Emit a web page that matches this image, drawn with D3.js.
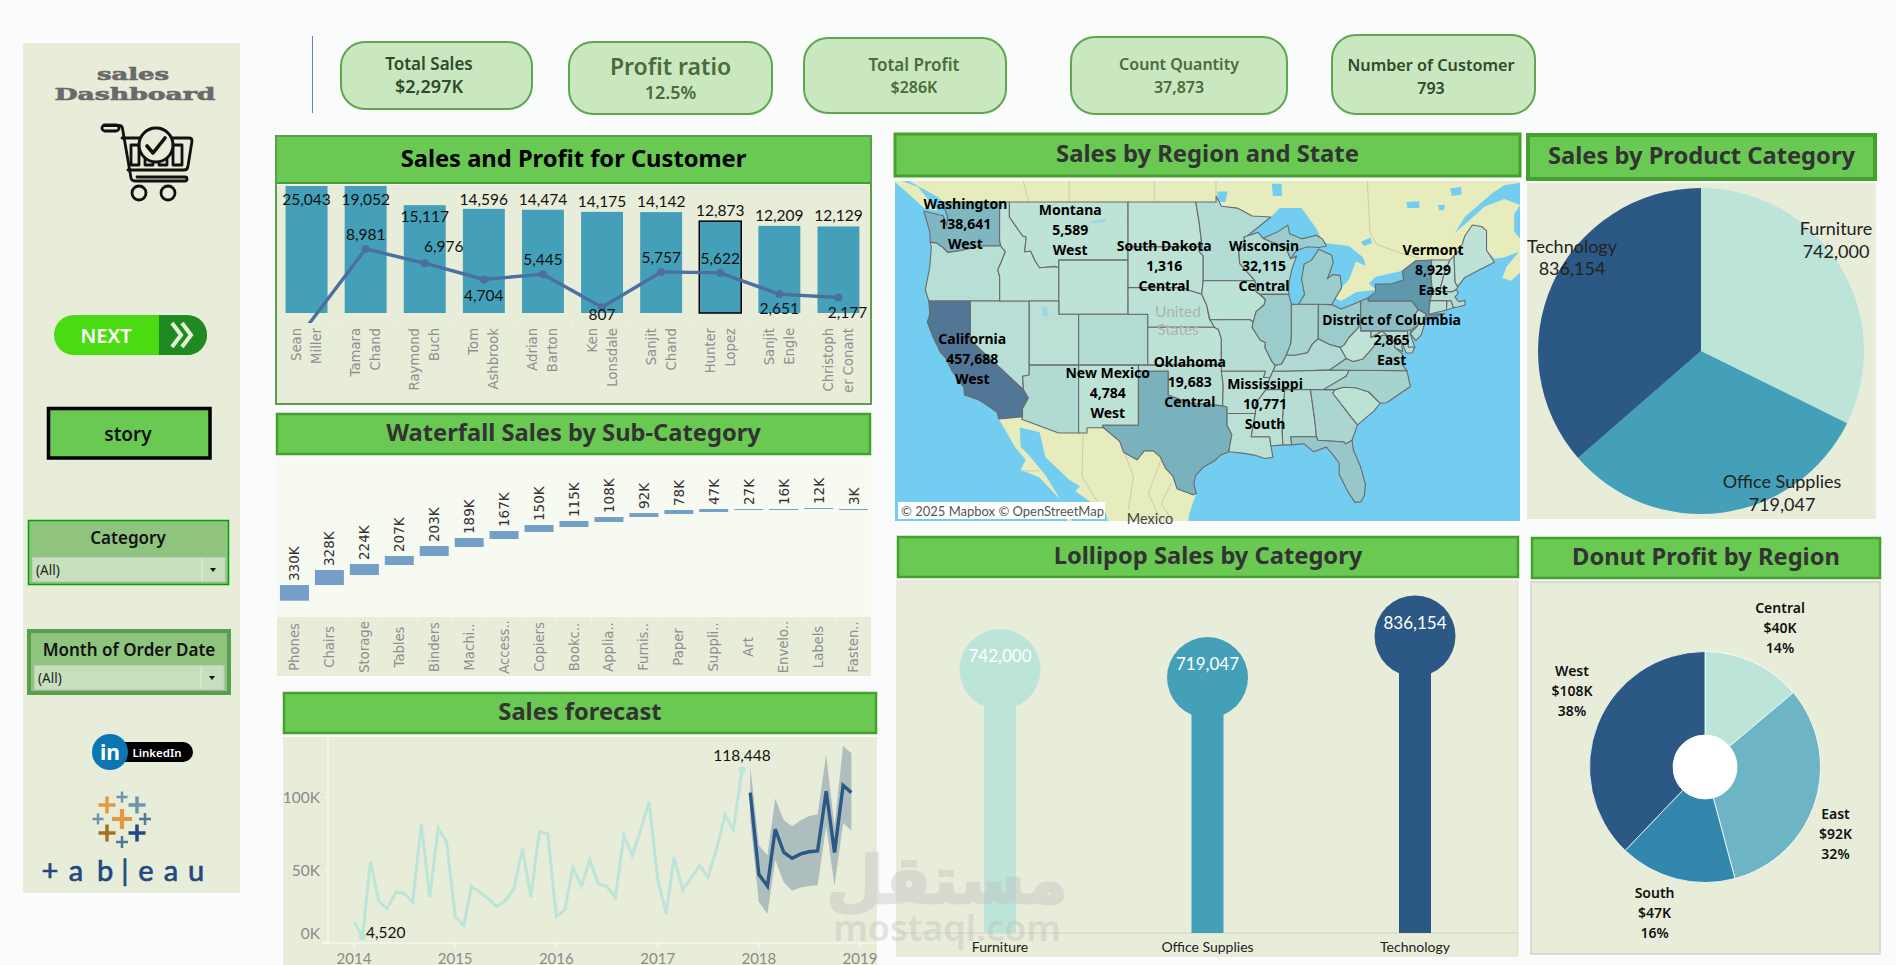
<!DOCTYPE html>
<html><head><meta charset="utf-8">
<script src="https://cdn.jsdelivr.net/npm/d3@7/dist/d3.min.js"></script>
<style>html,body{margin:0;padding:0;background:#fafbfb;overflow:hidden}svg{display:block}</style>
</head><body>
<script>
// ---------- DATA ----------
const kpiNames=["Total Sales","Profit ratio","Total Profit","Count Quantity","Number of Customer"];
const kpiValues=["$2,297K","12.5%","$286K","37,873","793"];
const customers=[["Sean","Miller"],["Tamara","Chand"],["Raymond","Buch"],["Tom","Ashbrook"],["Adrian","Barton"],["Ken","Lonsdale"],["Sanjit","Chand"],["Hunter","Lopez"],["Sanjit","Engle"],["Christoph","er Conant"]];
const customerSales=[25043,19052,15117,14596,14474,14175,14142,12873,12209,12129];
const customerProfit=[-1981,8981,6976,4704,5445,807,5757,5622,2651,2177];
const subCats=["Phones","Chairs","Storage","Tables","Binders","Machi..","Access..","Copiers","Bookc..","Applia..","Furnis..","Paper","Suppli..","Art","Envelo..","Labels","Fasten.."];
const subLabels=["330K","328K","224K","207K","203K","189K","167K","150K","115K","108K","92K","78K","47K","27K","16K","12K","3K"];
const subStart=[0,329,539,749,938,1127,1295,1442,1547,1652,1757,1820,1862,1918,1918,1939,1918];
const subEnd=[329,644,770,938,1148,1316,1463,1589,1673,1757,1841,1904,1925,1925,1925,1946,1925];
const actualSales=[14.4,4.52,55.9,28.5,23.5,34.7,33.9,28,81.8,31.5,78.6,69.5,18.3,12,38.8,34.7,30,25,29,37,64.6,31.3,76.3,75,18.2,22.8,51.8,38.8,57,40.4,38.8,31.3,73.7,59.8,77.6,97,43.4,20,58.9,36.3,44.5,53.2,45,64,88,77.6,118.448];
const forecastSales=[103,47,39,78,62,58,61,62.5,63,104,62,108,103];
const forecastHigh=[121,67,60,99,84,80,84,87,88,129,80,135,130];
const forecastLow=[84.5,28,20,57,41.5,36,38,39,39.5,80,39,82,77];
const yearTicks=[2014,2015,2016,2017,2018,2019];
const catNames=["Furniture","Office Supplies","Technology"];
const catSales=[742000,719047,836154];
const regionNames=["Central","East","South","West"];
const regionProfit=[39706,91523,46749,108418];
const regionMoney=["$40K","$92K","$47K","$108K"];
const regionPct=["14%","32%","16%","38%"];
const stateSales={CA:457688,NY:310876,TX:170188,WA:138641,PA:116512,FL:89474,IL:80166,OH:78258,MI:76270,VA:70637,NC:55603,IN:53555,GA:49096,KY:36592,NJ:35764,AZ:35282,WI:32115,CO:32108,TN:30662,MN:29863,MA:28634,DE:27451,MD:23706,RI:22628,MO:22205,OK:19683,AL:19511,OR:17431,NV:16729,CT:13384,AR:11678,UT:11220,MS:10771,LA:9217,VT:8929,SC:8482,NE:7464,NH:7293,MT:5589,NM:4784,IA:4580,ID:4382,KS:2914,DC:2865,WY:1603,SD:1316,ME:1271,WV:1210,ND:919};
const mapLabels=[["Washington","138,641","West",-120.5,47.58],["Montana","5,589","West",-109.9,47.12],["South Dakota","1,316","Central",-100.4,44.64],["Wisconsin","32,115","Central",-90.3,44.64],["Vermont","8,929","East",-73.2,44.29],["District of Columbia","2,865","East",-77.4,39.08],["California","457,688","West",-119.8,37.5],["New Mexico","4,784","West",-106.1,34.72],["Oklahoma","19,683","Central",-97.8,35.7],["Mississippi","10,771","South",-90.2,33.8]];
// Simplified outlines in longitude / latitude
const stateShapes={
WA:[[-124.7,48.4],[-123.2,48.15],[-122.75,48.1],[-122.4,47.4],[-122.3,48],[-122.8,49],[-117.03,49],[-117.04,46.4],[-116.92,46],[-118.98,46],[-119.3,45.93],[-121.2,45.65],[-122.3,45.55],[-122.8,45.9],[-123.4,46.2],[-124.05,46.27],[-124.1,47]],
OR:[[-124.05,46.27],[-123.4,46.2],[-122.8,45.9],[-122.3,45.55],[-121.2,45.65],[-119.3,45.93],[-118.98,46],[-116.92,46],[-116.46,45.6],[-116.85,44.9],[-117.22,44.3],[-117.03,43.8],[-117.03,42],[-124.2,42],[-124.55,42.85],[-124.1,44.5],[-123.95,45.9]],
CA:[[-124.2,42],[-120,42],[-120,39],[-114.63,35],[-114.13,34.3],[-114.72,33.4],[-114.72,32.72],[-117.12,32.53],[-117.3,33.1],[-118.4,33.75],[-119.2,34.15],[-120.6,34.55],[-120.65,35.15],[-121.9,36.6],[-122.5,37.6],[-123,38],[-123.8,39.3],[-124.35,40.4],[-124.1,41]],
NV:[[-120,42],[-114.04,42],[-114.04,36.2],[-114.7,36.1],[-114.63,35],[-120,39]],
ID:[[-117.03,49],[-116.05,49],[-116.05,48],[-114.7,46.7],[-114.35,46.65],[-114.5,45.6],[-113.9,45.65],[-113.45,44.95],[-113,44.45],[-111.5,44.55],[-111.05,44.47],[-111.05,42],[-117.03,42],[-117.03,43.8],[-117.22,44.3],[-116.85,44.9],[-116.46,45.6],[-116.92,46],[-117.04,46.4]],
MT:[[-116.05,49],[-104.05,49],[-104.05,45],[-111.05,45],[-111.05,44.47],[-111.5,44.55],[-113,44.45],[-113.45,44.95],[-113.9,45.65],[-114.5,45.6],[-114.35,46.65],[-114.7,46.7],[-116.05,48]],
WY:[[-111.05,45],[-104.05,45],[-104.05,41],[-111.05,41]],
UT:[[-114.04,42],[-111.05,42],[-111.05,41],[-109.05,41],[-109.05,37],[-114.04,37]],
AZ:[[-114.04,37],[-109.05,37],[-109.05,31.33],[-111.07,31.33],[-114.8,32.5],[-114.72,32.72],[-114.72,33.4],[-114.13,34.3],[-114.63,35],[-114.7,36.1],[-114.04,36.2]],
CO:[[-109.05,41],[-102.05,41],[-102.05,37],[-109.05,37]],
NM:[[-109.05,37],[-103,37],[-103,32],[-106.62,32],[-106.53,31.78],[-108.2,31.78],[-108.2,31.33],[-109.05,31.33]],
ND:[[-104.05,49],[-97.2,49],[-96.85,47.6],[-96.56,45.94],[-104.05,45.94]],
SD:[[-104.05,45.94],[-96.56,45.94],[-96.85,45.6],[-96.45,45.3],[-96.45,43.5],[-96.6,42.5],[-97.9,42.8],[-98.5,43],[-104.05,43]],
NE:[[-104.05,43],[-98.5,43],[-97.9,42.8],[-96.6,42.5],[-96.1,41.7],[-95.85,40.7],[-95.3,40],[-102.05,40],[-102.05,41],[-104.05,41]],
KS:[[-102.05,40],[-95.3,40],[-94.9,39.8],[-94.61,39.1],[-94.62,37],[-102.05,37]],
OK:[[-103,37],[-94.62,37],[-94.43,35.4],[-94.48,33.64],[-96.5,33.8],[-97.9,33.9],[-99.2,34.3],[-100,34.56],[-100,36.5],[-103,36.5]],
TX:[[-106.62,32],[-103,32],[-103,36.5],[-100,36.5],[-100,34.56],[-99.2,34.3],[-97.9,33.9],[-96.5,33.8],[-94.48,33.64],[-94.04,33.55],[-94.04,32],[-93.55,31.2],[-93.75,30.3],[-93.85,29.7],[-94.7,29.4],[-95.3,28.9],[-96.4,28.35],[-97.2,27.6],[-97.4,26.9],[-97.15,25.96],[-97.5,25.85],[-99.1,26.4],[-99.5,27.5],[-100.3,28.3],[-100.8,29.25],[-101.5,29.77],[-102.4,29.77],[-103.15,28.98],[-104.5,29.65],[-104.9,30.6],[-106.53,31.78]],
MN:[[-97.2,49],[-95.15,49],[-95.15,49.38],[-94.6,48.72],[-93,48.6],[-91.5,48.07],[-89.6,48],[-92,46.7],[-92.3,46.65],[-92.3,46.1],[-92.85,45.6],[-92.75,44.75],[-91.2,43.5],[-96.45,43.5],[-96.45,45.3],[-96.85,45.6],[-96.56,45.94],[-96.85,47.6]],
IA:[[-96.45,43.5],[-91.2,43.5],[-91.1,42.7],[-90.15,42.1],[-90.3,41.7],[-91.1,41.2],[-91.4,40.4],[-91.75,40.6],[-95.77,40.58],[-96.1,41.7],[-96.6,42.5]],
MO:[[-95.77,40.58],[-91.75,40.6],[-91.4,40.4],[-91.5,40],[-90.7,39],[-90.15,38.8],[-90.2,38.4],[-89.5,37.3],[-89.15,36.97],[-89.4,36.5],[-89.7,36],[-90.37,36],[-90.15,36.5],[-94.62,36.5],[-94.62,37],[-94.61,39.1],[-94.9,39.8],[-95.3,40]],
AR:[[-94.62,36.5],[-90.15,36.5],[-90.37,36],[-89.7,36],[-90.1,35],[-91.1,33.9],[-91.17,33],[-94.04,33],[-94.04,33.55],[-94.48,33.64],[-94.43,35.4]],
LA:[[-94.04,33],[-91.17,33],[-91.6,31],[-89.73,31],[-89.6,30.2],[-89.4,29.2],[-90.2,29.1],[-91.3,29.4],[-92.3,29.55],[-93.85,29.7],[-93.75,30.3],[-93.55,31.2],[-94.04,32]],
WI:[[-92.3,46.65],[-92,46.7],[-90.9,46.95],[-90.4,46.55],[-89.1,46.15],[-88.1,45.9],[-87.6,45.1],[-87,45.3],[-87.5,44.3],[-87.8,43.3],[-87.8,42.5],[-90.65,42.5],[-91.1,42.7],[-91.2,43.5],[-92.75,44.75],[-92.85,45.6],[-92.3,46.1]],
IL:[[-90.65,42.5],[-87.8,42.5],[-87.53,41.75],[-87.53,39.3],[-87.6,38.7],[-88.05,37.8],[-88.5,37.1],[-89.15,36.97],[-89.5,37.3],[-90.2,38.4],[-90.15,38.8],[-90.7,39],[-91.5,40],[-91.4,40.4],[-91.1,41.2],[-90.3,41.7],[-90.15,42.1]],
IN:[[-87.53,41.75],[-86.8,41.76],[-84.8,41.76],[-84.82,39.1],[-85.4,38.7],[-85.9,38],[-87.1,37.8],[-88.05,37.8],[-87.6,38.7],[-87.53,39.3]],
OH:[[-84.8,41.76],[-83.45,41.73],[-82.5,41.4],[-81.3,41.75],[-80.52,42],[-80.52,40.64],[-80.7,40],[-81.7,39.2],[-82.2,38.6],[-82.6,38.42],[-83.7,38.65],[-84.82,39.1]],
MI:[[-86.8,41.76],[-84.8,41.76],[-83.45,41.73],[-83.1,42.2],[-82.45,43],[-82.6,43.9],[-83.4,43.95],[-83.9,43.65],[-83.3,44.8],[-83.45,45.35],[-84.75,45.78],[-85.5,45],[-86.25,44.7],[-86.5,43.6],[-86.2,42.5]],
MIU:[[-90.4,46.55],[-89,46.95],[-87.9,47.45],[-87.7,46.85],[-86.5,46.5],[-85,46.75],[-84.4,46.5],[-84,46],[-84.75,45.9],[-85.9,45.95],[-87,45.7],[-87.6,45.1],[-88.1,45.9],[-89.1,46.15]],
KY:[[-89.15,36.97],[-88.5,37.1],[-88.05,37.8],[-87.1,37.8],[-85.9,38],[-85.4,38.7],[-84.82,39.1],[-83.7,38.65],[-82.6,38.42],[-81.97,37.54],[-83.68,36.6],[-88.05,36.5],[-89.4,36.5]],
TN:[[-89.4,36.5],[-88.05,36.5],[-83.68,36.6],[-81.68,36.59],[-82,36.1],[-84.3,35],[-90.1,35],[-89.7,36]],
MS:[[-91.17,33],[-91.1,33.9],[-90.1,35],[-88.2,35],[-88.47,31.9],[-88.4,30.3],[-89.6,30.2],[-89.73,31],[-91.6,31]],
AL:[[-88.2,35],[-85.6,35],[-85.15,32.3],[-85,31],[-87.6,31],[-87.5,30.3],[-88.4,30.3],[-88.47,31.9]],
GA:[[-85.6,35],[-83.1,35],[-83.35,34.7],[-81.4,32.6],[-80.85,32.03],[-81.4,30.7],[-82.05,30.36],[-82.2,30.55],[-84.86,30.7],[-85,31],[-85.15,32.3]],
FL:[[-87.6,31],[-85,31],[-84.86,30.7],[-82.2,30.55],[-82.05,30.36],[-81.4,30.7],[-81.25,29.8],[-80.55,28.4],[-80.05,26.8],[-80.15,25.75],[-80.5,25.2],[-81.1,25.15],[-81.8,26.1],[-82.7,27.7],[-82.7,28.7],[-83.4,29.5],[-84,30.1],[-85.3,29.7],[-86.3,30.4],[-87.5,30.3]],
SC:[[-83.35,34.7],[-83.1,35],[-82.3,35.2],[-81,35.15],[-79.7,34.8],[-78.55,33.86],[-79.2,33.2],[-80.85,32.03],[-81.4,32.6]],
NC:[[-84.3,35],[-82,36.1],[-81.68,36.59],[-75.85,36.55],[-75.5,35.25],[-76.5,34.7],[-77.9,33.9],[-78.55,33.86],[-79.7,34.8],[-81,35.15],[-82.3,35.2],[-83.1,35]],
VA:[[-83.68,36.6],[-81.97,37.54],[-81.3,37.3],[-80.3,37.5],[-79.3,38.4],[-78.35,39.4],[-77.75,39.3],[-77.1,38.9],[-77.05,38.4],[-76.3,37.9],[-76.3,37],[-75.85,36.55],[-81.68,36.59]],
WV:[[-81.97,37.54],[-82.6,38.42],[-82.2,38.6],[-81.7,39.2],[-80.7,40],[-80.52,40.64],[-80.52,39.72],[-79.48,39.72],[-79.48,39.2],[-78.35,39.7],[-77.75,39.3],[-78.35,39.4],[-79.3,38.4],[-80.3,37.5],[-81.3,37.3]],
MD:[[-79.48,39.72],[-75.79,39.72],[-75.7,38.46],[-75.05,38.45],[-75.3,38],[-75.9,37.95],[-76.4,38.9],[-76.3,38.1],[-77.05,38.4],[-77.1,38.9],[-77.75,39.3],[-78.35,39.7],[-79.48,39.2]],
DE:[[-75.79,39.72],[-75.4,39.8],[-75.55,39.5],[-75.05,38.45],[-75.7,38.46]],
PA:[[-80.52,42],[-79.76,42.25],[-79.76,42],[-75.35,42],[-74.7,41.35],[-75.1,40.9],[-75.2,40.7],[-74.72,40.15],[-75.4,39.8],[-75.79,39.72],[-80.52,39.72]],
NY:[[-79.76,42.25],[-79,42.7],[-79.05,43.27],[-77.5,43.27],[-76.2,43.55],[-76.3,44.2],[-75,44.95],[-73.35,45.01],[-73.4,43.6],[-73.25,42.75],[-73.5,42.05],[-73.65,41],[-72,41.05],[-73.9,40.58],[-74.05,40.7],[-73.9,41],[-74.7,41.35],[-75.35,42],[-79.76,42]],
NJ:[[-74.7,41.35],[-73.9,41],[-74.05,40.7],[-74,40.4],[-74.4,39.4],[-74.95,38.95],[-75.5,39.5],[-74.72,40.15],[-75.2,40.7],[-75.1,40.9]],
CT:[[-73.5,42.05],[-71.8,42.02],[-71.85,41.32],[-73.65,41]],
RI:[[-71.8,42.02],[-71.38,42.02],[-71.15,41.5],[-71.85,41.32]],
MA:[[-73.5,42.05],[-73.25,42.75],[-71.3,42.7],[-70.85,42.88],[-70.65,42.6],[-71,42.3],[-70.6,41.95],[-70,42.05],[-69.95,41.7],[-70.7,41.55],[-71.15,41.5],[-71.38,42.02]],
VT:[[-73.35,45.01],[-71.5,45.01],[-72.05,44.1],[-72.45,43],[-72.5,42.73],[-73.25,42.75],[-73.4,43.6]],
NH:[[-71.5,45.01],[-71.08,45.3],[-70.98,43.4],[-70.7,43.07],[-70.85,42.88],[-71.3,42.7],[-72.5,42.73],[-72.45,43],[-72.05,44.1]],
ME:[[-71.08,45.3],[-70.4,45.8],[-70,46.7],[-69.23,47.46],[-68.3,47.35],[-67.8,47.07],[-67.8,45.7],[-67,44.85],[-68.5,44.3],[-70,43.75],[-70.7,43.07],[-70.98,43.4]],
DC:[[-77.12,38.93],[-77.04,39],[-76.91,38.89],[-77.04,38.79]]
};
const landShapes=[
[[-123.2,49.3],[-122.8,49],[-95.15,49],[-95.15,49.38],[-94.6,48.72],[-93,48.6],[-91.5,48.07],[-89.6,48],[-88.7,48.6],[-86.5,48.6],[-85,47.2],[-84.6,46.6],[-84,46.2],[-81.7,46],[-80.3,45.2],[-80,44.6],[-81,44.9],[-81.7,43.6],[-82.45,43],[-83.1,42.2],[-82.5,42],[-81,42.65],[-79,42.85],[-79.7,43.3],[-79,43.8],[-76.5,44.2],[-75,44.95],[-74.7,45.01],[-71.5,45.01],[-71.08,45.3],[-70.4,45.8],[-70,46.7],[-69.23,47.46],[-68.3,47.35],[-67.8,47.07],[-67.8,45.7],[-67,45.1],[-66,45.2],[-64.5,45.6],[-65.8,44.5],[-66.2,43.7],[-65.3,43.5],[-64,44.4],[-61.5,45.2],[-60,46],[-60.5,47],[-61.5,45.9],[-64,46.2],[-65,47],[-65,48.2],[-64.4,48.8],[-66,49.2],[-68,48.7],[-69.5,47.8],[-71,46.9],[-70,48],[-67.2,49.6],[-66,50.1],[-63,50.4],[-55,52],[-55,60],[-135,60],[-135,52],[-128,51]],
[[-128.3,50.7],[-125.3,50],[-123.3,48.4],[-124.7,48.6],[-126,49.4]],
[[-117.12,32.53],[-114.72,32.72],[-114.8,32.5],[-111.07,31.33],[-109.05,31.33],[-108.2,31.33],[-108.2,31.78],[-106.53,31.78],[-104.9,30.6],[-104.5,29.65],[-103.15,28.98],[-102.4,29.77],[-101.5,29.77],[-100.8,29.25],[-100.3,28.3],[-99.5,27.5],[-99.1,26.4],[-97.5,25.85],[-97.15,25.96],[-97.9,24],[-98,22],[-97.2,20.5],[-95.5,18.7],[-90,14],[-105,14],[-105.5,21],[-106.3,24.2],[-109.4,26.2],[-108.9,26.6],[-110,27.2],[-112.4,29.2],[-113,31.4],[-115,31.8],[-114.9,30.1],[-114.1,29.4],[-112.4,27.6],[-111.3,26],[-109.7,23.4],[-110,22.9],[-110.9,25.4],[-113,27.4],[-114.9,28.1],[-114.4,29],[-115.4,30]]
];
const lakeShapes=[
[[-89.5,50.2],[-88.5,50.2],[-88.5,49.4],[-89.4,49.4]],
[[-95,49.7],[-94,49.7],[-94.2,49],[-95,49]],
[[-75.9,49],[-74.6,49.05],[-74.6,48.6],[-75.8,48.6]],
[[-72.7,48.8],[-72,48.8],[-72.1,48.45],[-72.6,48.45]],
[[-71.5,49.9],[-70.4,50],[-70.3,49.5],[-71.3,49.4]],
[[-80.5,46.3],[-79.5,46.6],[-79.4,46.2],[-80.2,46]]
];
const inlandLakes=[[[-112.8,41.5],[-112.3,41.6],[-112.1,40.9],[-112.6,40.8]],[[-107.8,47.7],[-106.3,47.9],[-106.3,47.65],[-107.7,47.55]]];
const borderLines=[[[-114.1,49],[-114.7,50.5]],[[-110,49],[-110,51]],[[-101.4,49],[-101.4,51]],[[-95.15,49.4],[-95.15,51]],[[-79.9,51],[-79.6,47],[-78.9,46.1],[-76.5,45.5],[-74.4,45.1]],[[-108.6,31.3],[-108.7,27.5],[-107,25]],[[-104.8,30.5],[-103.5,27.5],[-104,24.5]],[[-100.7,29],[-102,26],[-101,24]],[[-99.7,26.9],[-100.7,25],[-99.5,23.4]],[[-115,28],[-113,28]]];

// ---------- SETUP ----------
const W=1896,H=965;
const SANS="'Noto Sans',sans-serif", NUM="Lato,'Open Sans',sans-serif", WIDE="'DejaVu Sans',sans-serif";
const PANE="#e8edd9", HEAD="#69c952", HEADB="#46a02e", BLUE1="#bce4d9", BLUE2="#44a0b9", BLUE3="#2c5885";
const svg=d3.select("body").append("svg").attr("width",W).attr("height",H);
svg.append("rect").attr("width",W).attr("height",H).attr("fill","#fafbfb");
function rect(g,x0,y0,x1,y1,fill,stroke,sw,rx){const r=g.append("rect").attr("x",x0).attr("y",y0).attr("width",x1-x0).attr("height",y1-y0).attr("fill",fill||"none");if(stroke)r.attr("stroke",stroke).attr("stroke-width",sw||1);if(rx)r.attr("rx",rx);return r;}
function text(g,s,x,y,size,fill,opt){opt=opt||{};const t=g.append("text").attr("x",x).attr("y",y).attr("font-size",size).attr("fill",fill).attr("font-family",opt.font||NUM).attr("text-anchor",opt.anchor||"middle").attr("dominant-baseline","central").text(s);if(opt.weight)t.attr("font-weight",opt.weight);if(opt.ls)t.attr("letter-spacing",opt.ls);if(opt.stroke)t.attr("stroke",opt.stroke).attr("stroke-width",opt.sw||.4);if(opt.opacity)t.attr("opacity",opt.opacity);if(opt.fit)t.attr("textLength",opt.fit).attr("lengthAdjust","spacingAndGlyphs");return t;}
function title(s,x0,y0,x1,y1,size,color,sw){const g=svg.append("g");rect(g,x0,y0,x1,y1,HEAD,HEADB,sw||3);text(g,s,(x0+x1)/2,(y0+y1)/2-2,size,color||"#333",{font:SANS,weight:700});}

// ---------- SIDEBAR ----------
const side=svg.append("g");
rect(side,23,43,240,893,PANE);
text(side,"sales",133,74,16,"#6a6a6a",{font:"'DejaVu Serif',serif",weight:700,stroke:"#6a6a6a",sw:.6,fit:72});
text(side,"Dashboard",135,94,16,"#6a6a6a",{font:"'DejaVu Serif',serif",weight:700,stroke:"#6a6a6a",sw:.6,fit:161});
const cart=side.append("g").attr("fill","none").attr("stroke","#111").attr("stroke-width",2.8).attr("stroke-linejoin","round").attr("stroke-linecap","round");
cart.append("path").attr("d","M104,125.5 h15 q3,0 3.5,3 L131,178 q.6,3 4,3 h50 a2,2 0 0 0 0,-4 h-48");
cart.append("rect").attr("x",102).attr("y",125).attr("width",17).attr("height",6).attr("rx",3);
cart.append("path").attr("d","M122,138 H189 q3,0 3,3 L188,166 q-.5,4 -4,4 H128");
["M131,145 h8 v20 h-8 Z","M145,157 h8 v8 h-8 Z","M159,157 h8 v8 h-8 Z","M173,145 h9 v20 h-9 Z"].forEach(d=>cart.append("path").attr("d",d));
cart.append("circle").attr("cx",156).attr("cy",145).attr("r",17).attr("fill",PANE).attr("stroke-width",3);
cart.append("path").attr("d","M147,146 l6,7 l12,-15").attr("stroke-width",3.6);
cart.append("circle").attr("cx",139).attr("cy",193).attr("r",7);
cart.append("circle").attr("cx",168).attr("cy",193).attr("r",7);
rect(side,54,315,207,355,"#4bdb12",null,0,20);
side.append("path").attr("d","M159,315 H187 a20,20 0 0 1 0,40 H159 Z").attr("fill","#1f8a22");
text(side,"NEXT",106,335,20,"#fff",{font:SANS,weight:600});
side.append("path").attr("d","M172,323 l9,12 l-9,12 M182,323 l9,12 l-9,12").attr("fill","none").attr("stroke","#e6f3d6").attr("stroke-width",4);
rect(side,48.5,408.5,210,458,HEAD,"#000",3.5);
text(side,"story",128,434,19,"#111",{font:SANS,weight:600});
rect(side,28.5,520.5,228.5,584.5,"#8fc47f","#00a000",1.5);
text(side,"Category",128,537,17,"#111",{font:SANS,weight:600});
rect(side,32.5,557.5,225,581.5,"#c6dfbd","#c8c8c8",1);
side.append("line").attr("x1",202).attr("x2",202).attr("y1",558).attr("y2",581).attr("stroke","#e8eee0");
text(side,"(All)",36,570,13.5,"#222",{anchor:"start",font:SANS});
side.append("path").attr("d","M210,568 h6 l-3,4 Z").attr("fill","#111");
rect(side,29,631,229,693,"#8fc47f","#5a9f50",4);
text(side,"Month of Order Date",129,649,17,"#111",{font:SANS,weight:600});
rect(side,34.5,665.5,224,689.5,"#c6dfbd","#c8c8c8",1);
side.append("line").attr("x1",201).attr("x2",201).attr("y1",666).attr("y2",689).attr("stroke","#e8eee0");
text(side,"(All)",38,678,13.5,"#222",{anchor:"start",font:SANS});
side.append("path").attr("d","M209,676 h6 l-3,4 Z").attr("fill","#111");
rect(side,108,742,193,762,"#000",null,0,10);
side.append("circle").attr("cx",110).attr("cy",752).attr("r",18).attr("fill","#0a76b4");
text(side,"in",110,752,21,"#fff",{font:SANS,weight:700});
text(side,"LinkedIn",157,752,11.5,"#fff",{font:SANS,weight:600});
[[122,819,20,4.2,"#e39a3f"],[107,805,17,3.5,"#e39a3f"],[122,797,11,2.5,"#6f94ae"],[137,805,17,3.5,"#6f94ae"],[98,819,11,2.5,"#6f94ae"],[145,819,12,2.5,"#4f789a"],[107,833,17,3.5,"#a56f25"],[137,833,17,3.5,"#1f4a80"],[122,842,12,2.5,"#4f789a"]].forEach(c=>{
 side.append("path").attr("d",`M${c[0]-c[2]/2},${c[1]}h${c[2]}M${c[0]},${c[1]-c[2]/2}v${c[2]}`).attr("stroke",c[4]).attr("stroke-width",c[3]);});
side.append("text").attr("x","50 76 105 125 146 171 196").attr("y",869).attr("text-anchor","middle").attr("dominant-baseline","central").attr("font-family",NUM).attr("font-size",29).attr("fill","#1f4a80").attr("stroke","#1f4a80").attr("stroke-width",.7).text("+ab|eau");

// ---------- KPI CARDS ----------
svg.append("line").attr("x1",312.5).attr("x2",312.5).attr("y1",36).attr("y2",113).attr("stroke","#5b86b4");
const cards=[[341,42,532,109,429,17,18,63,86,"#2f4a2b"],[569,42,772,114,670.5,23,18,66,92,"#4b6b3c"],[804,38,1006,113,914,17,16,64,87,"#4b6b3c"],[1071,37,1287,114,1179,16,16,64,87,"#4b6b3c"],[1332,35,1535,114,1431,16.2,16,65,88,"#2f4a2b"]];
kpiNames.forEach((n,i)=>{const c=cards[i];const g=svg.append("g");
 rect(g,c[0],c[1],c[2],c[3],"#c9e8bf","#5fa552",2,24);
 text(g,n,c[4],c[7],c[5],c[9],{font:SANS,weight:600});
 text(g,kpiValues[i],c[4],c[8],c[6],c[9],{font:SANS,weight:600});});

// ---------- SALES & PROFIT ----------
title("Sales and Profit for Customer",276,136,871,183,23.7,"#000",2);
const sp=svg.append("g");
sp.append("rect").attr("x",276).attr("y",185).attr("width",595).attr("height",219).attr("fill",PANE);
sp.append("rect").attr("x",276).attr("y",136).attr("width",595).attr("height",268).attr("fill","none").attr("stroke","#5c9e4f").attr("stroke-width",2);
const spX=d3.scaleBand().domain(d3.range(customers.length)).range([277,868]).paddingInner(.29).paddingOuter(.145);
const spY=d3.scaleLinear().domain([0,17800]).range([313,186]);
svg.append("clipPath").attr("id","spClip").append("rect").attr("x",277).attr("y",186).attr("width",593).attr("height",137);
const spC=sp.append("g").attr("clip-path","url(#spClip)");
spC.selectAll("rect.b").data(customerSales).join("rect").attr("x",(d,i)=>spX(i)).attr("y",d=>spY(d)).attr("width",spX.bandwidth()).attr("height",d=>spY(0)-spY(d)).attr("fill",BLUE2).attr("stroke",(d,i)=>customers[i][0]=="Hunter"?"#000":"none").attr("stroke-width",1.5);
const spLine=d3.line().x((d,i)=>spX(i)+spX.bandwidth()/2).y(d=>spY(d));
spC.append("path").attr("d",spLine(customerProfit)).attr("fill","none").attr("stroke","#4b6f9e").attr("stroke-width",3.4);
spC.selectAll("circle").data(customerProfit).join("circle").attr("cx",(d,i)=>spX(i)+spX.bandwidth()/2).attr("cy",d=>spY(d)).attr("r",4).attr("fill","#4b6f9e");
customerSales.forEach((v,i)=>{let y=Math.max(spY(v)-11,199);if(i==2)y=spY(v)+11;
 text(sp,d3.format(",")(v),spX(i)+spX.bandwidth()/2,y,15.5,"#111");});
const profitNudge={1:[0,-15],2:[19,-17],3:[0,16],4:[0,-15],5:[0,7],6:[0,-15],7:[0,-15],8:[0,14],9:[9,15]};
customerProfit.forEach((v,i)=>{if(!profitNudge[i])return;
 text(sp,d3.format(",")(v),spX(i)+spX.bandwidth()/2+profitNudge[i][0],spY(v)+profitNudge[i][1],15.5,"#111");});
customers.forEach((n,i)=>{const cx=spX(i)+spX.bandwidth()/2;
 n.forEach((s,j)=>{sp.append("text").attr("transform",`translate(${cx+(j?10:-10)},328) rotate(-90)`).attr("text-anchor","end").attr("dominant-baseline","central").attr("font-family",WIDE).attr("font-size",13.2).attr("fill","#8f8f8f").text(s);});
 if(i)sp.append("line").attr("x1",spX(i)-spX.step()*.145).attr("x2",spX(i)-spX.step()*.145).attr("y1",323).attr("y2",326).attr("stroke","#f5f7ec");});

// ---------- WATERFALL ----------
title("Waterfall Sales by Sub-Category",277,414,870,454,23.7,"#333",2.5);
const wf=svg.append("g");
rect(wf,277,457,871,617,"#f7faf0");
rect(wf,277,617,871,676,PANE);
const wfX=d3.scaleBand().domain(subCats).range([277,871]).paddingInner(.17).paddingOuter(.085);
const wfY=d3.scaleLinear().domain([0,2297]).range([600.7,491.3]);
wf.selectAll("rect.w").data(subCats).join("rect").attr("x",d=>wfX(d)).attr("y",(d,i)=>wfY(subEnd[i])).attr("width",wfX.bandwidth()).attr("height",(d,i)=>Math.max(1,wfY(subStart[i])-wfY(subEnd[i]))).attr("fill","#74a0c8");
subCats.forEach((c,i)=>{const cx=wfX(c)+wfX.bandwidth()/2;
 wf.append("text").attr("transform",`translate(${cx},${wfY(subEnd[i])-4}) rotate(-90)`).attr("text-anchor","start").attr("dominant-baseline","central").attr("font-family",WIDE).attr("font-size",13.5).attr("fill","#333").text(subLabels[i]);
 wf.append("text").attr("transform",`translate(${cx},647) rotate(-90)`).attr("text-anchor","middle").attr("dominant-baseline","central").attr("font-family",WIDE).attr("font-size",13.2).attr("fill","#8f8f8f").text(c);
 if(i)wf.append("line").attr("x1",wfX(c)-wfX.step()*.085).attr("x2",wfX(c)-wfX.step()*.085).attr("y1",617).attr("y2",620).attr("stroke","#f5f7ec");});

// ---------- FORECAST ----------
title("Sales forecast",284,693,876,733,23.7,"#333",2.5);
const fc=svg.append("g");
rect(fc,283,737,877,965,PANE);
const fcX=d3.scaleTime().domain([new Date(2014,0,1),new Date(2019,0,1)]).range([354,860]);
const fcY=d3.scaleLinear().domain([0,100]).range([943,797]);
const m=i=>new Date(2014,i,1);
fc.append("line").attr("x1",328).attr("x2",328).attr("y1",737).attr("y2",943).attr("stroke","#fafbf3").attr("stroke-width",1.2);
fc.append("line").attr("x1",322).attr("x2",877).attr("y1",943).attr("y2",943).attr("stroke","#fafbf3").attr("stroke-width",1.2);
[0,50,100].forEach(v=>{const y=v?fcY(v):933;fc.append("line").attr("x1",324).attr("x2",328).attr("y1",fcY(v)).attr("y2",fcY(v)).attr("stroke","#fafbf3");
 text(fc,v+"K",320,y,15.5,"#8a8a8a",{anchor:"end"});});
yearTicks.forEach(y=>{const x=fcX(new Date(y,0,1));fc.append("line").attr("x1",x).attr("x2",x).attr("y1",943).attr("y2",949).attr("stroke","#fafbf3");
 text(fc,y,x,958,15,"#8a8a8a");});
const act=actualSales.map((v,i)=>[m(i),v]);
const fcLine=d3.line().x(d=>fcX(d[0])).y(d=>fcY(d[1]));
fc.append("path").attr("d",fcLine(act)).attr("fill","none").attr("stroke",BLUE1).attr("stroke-width",3);
[1,46].forEach(i=>fc.append("circle").attr("cx",fcX(m(i))).attr("cy",fcY(actualSales[i])).attr("r",3.6).attr("fill",BLUE1));
const fm=i=>m(47+i);
fc.append("path").attr("d",d3.area().x((d,i)=>fcX(fm(i))).y0((d,i)=>fcY(forecastLow[i])).y1(d=>fcY(d))(forecastHigh)).attr("fill","#7d96a6").attr("fill-opacity",.55);
fc.append("path").attr("d",d3.line().x((d,i)=>fcX(fm(i))).y(d=>fcY(d))(forecastSales)).attr("fill","none").attr("stroke",BLUE3).attr("stroke-width",3.4);
text(fc,"118,448",fcX(m(46)),755,15.5,"#111");
text(fc,"4,520",366,931.5,15.5,"#111",{anchor:"start"});

// ---------- MAP ----------
title("Sales by Region and State",895,134,1520,176,23.8,"#333",3);
const mp=svg.append("g");
rect(mp,895,181,1520,521,"#72cdf0");
svg.append("clipPath").attr("id","mapClip").append("rect").attr("x",895).attr("y",181).attr("width",625).attr("height",340);
const proj=d3.geoMercator().scale(566.6).translate([2157,759.5]);
const ringPath=r=>d3.line()(r.map(p=>proj(p)))+"Z";
const openPath=r=>d3.line()(r.map(p=>proj(p)));
const mpC=mp.append("g").attr("clip-path","url(#mapClip)");
mpC.selectAll("path.l").data(landShapes).join("path").attr("d",ringPath).attr("fill","#e6ecbc");
mpC.selectAll("path.k").data(lakeShapes).join("path").attr("d",ringPath).attr("fill","#72cdf0");
mpC.selectAll("path.b").data(borderLines).join("path").attr("d",openPath).attr("fill","none").attr("stroke","#c6ccb8").attr("stroke-width",1);
const stateColor=d3.scaleLinear().domain([0,30000,140000,310000,458000]).range(["#bfe3d6","#b3dcd4","#7fb6c0","#5d98ad","#527796"]);
const stateKeys=Object.keys(stateShapes);
mpC.selectAll("path.s").data(stateKeys).join("path").attr("d",k=>ringPath(stateShapes[k])).attr("fill",k=>stateColor(stateSales[k=="MIU"?"MI":k])).attr("stroke","#6a6a6a").attr("stroke-width",1.1).attr("stroke-linejoin","round");
mpC.selectAll("path.i").data(inlandLakes).join("path").attr("d",ringPath).attr("fill","#9cd8e0");
text(mp,"United",1178,311,15.5,"#a9b5b0");text(mp,"States",1178,329,15.5,"#a9b5b0");
text(mp,"Mexico",1150,518,14.5,"#444");
rect(mp,898,502,1105,519,"#fff");
text(mp,"© 2025 Mapbox © OpenStreetMap",901,511,13,"#555",{anchor:"start"});
mapLabels.forEach(l=>{const p=proj([l[3],l[4]]);
 [l[0],l[1],l[2]].forEach((s,i)=>text(mp,s,p[0],p[1]+(i-1)*20,14,"#000",{font:SANS,weight:700}));});

// ---------- PIE ----------
title("Sales by Product Category",1528,135,1875,179,23.7,"#333",4);
const pg=svg.append("g");
rect(pg,1527,183,1876,519,PANE);
const pie=d3.pie().sort(null);
const catColors=[BLUE1,BLUE2,BLUE3];
const pArc=d3.arc().innerRadius(0).outerRadius(163);
const pieG=pg.append("g").attr("transform","translate(1701,351)");
pieG.selectAll("path").data(pie(catSales)).join("path").attr("d",pArc).attr("fill",(d,i)=>catColors[i]);
const fmt=d3.format(",");
[[1836,228],[1782,481],[1572,245.5]].forEach((p,i)=>{text(pg,catNames[i],p[0],p[1],18,"#222");text(pg,fmt(catSales[i]),p[0],p[1]+22.8,18,"#222");});

// ---------- LOLLIPOP ----------
title("Lollipop Sales by Category",898,537,1518,577,23.7,"#333",2.5);
const lo=svg.append("g");
rect(lo,897,581,1518,956,PANE).attr("stroke","#dfe3d0");
const loX=d3.scalePoint().domain(catNames).range([1000,1415]);
const loY=d3.scaleLinear().domain([0,836154]).range([933,636]);
lo.append("line").attr("x1",897).attr("x2",1518).attr("y1",933).attr("y2",933).attr("stroke","#cfd3c4").attr("stroke-width",1.2);
catNames.forEach((c,i)=>{const x=loX(c),y=loY(catSales[i]);
 lo.append("rect").attr("x",x-16).attr("y",y).attr("width",32).attr("height",933-y).attr("fill",catColors[i]);
 lo.append("circle").attr("cx",x).attr("cy",y).attr("r",40.5).attr("fill",catColors[i]);
 text(lo,fmt(catSales[i]),x,y-14,17,"#fff");
 text(lo,c,x,946,14,"#222");});

// ---------- DONUT ----------
title("Donut Profit by Region",1532,538,1880,578,23.7,"#333",2.5);
const dn=svg.append("g");
rect(dn,1531,582,1880,954,PANE,"#cfd3c4",1.5);
dn.append("line").attr("x1",1533).attr("x2",1878).attr("y1",768).attr("y2",768).attr("stroke","#c8cdb9").attr("stroke-dasharray","1,3");
const regColors=[BLUE1,"#6db5c5","#3287ad",BLUE3];
const dArc=d3.arc().innerRadius(32).outerRadius(115.5);
const dG=dn.append("g").attr("transform","translate(1705,767)");
dG.selectAll("path").data(pie(regionProfit)).join("path").attr("d",dArc).attr("fill",(d,i)=>regColors[i]).attr("stroke","#fff").attr("stroke-width",.8);
dG.append("circle").attr("r",32).attr("fill","#fff");
[[1780,607],[1835.5,813],[1654.6,892],[1572,670]].forEach((p,i)=>{
 [regionNames[i],regionMoney[i],regionPct[i]].forEach((s,j)=>text(dn,s,p[0],p[1]+j*20,14,"#111",{font:SANS,weight:600}));});

// ---------- WATERMARK ----------
const wm=svg.append("g").attr("opacity",.38);
text(wm,"مستقل",947,880,66,"#bdbdbd",{font:WIDE,weight:700,stroke:"#bdbdbd",sw:2.5});
text(wm,"mostaql.com",947,927,36,"#bdbdbd",{font:SANS,weight:600});
</script>
</body></html>
